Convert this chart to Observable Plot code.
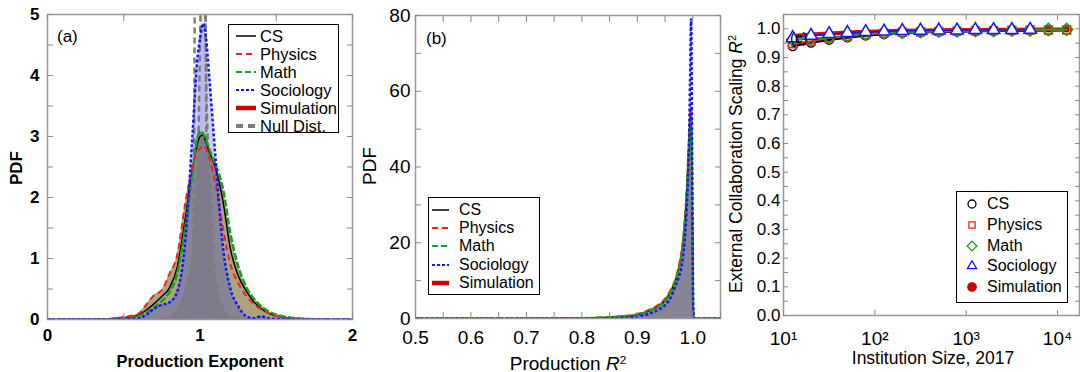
<!DOCTYPE html>
<html><head><meta charset="utf-8">
<script src="https://cdn.jsdelivr.net/npm/d3@7"></script>
<script src="https://cdn.jsdelivr.net/npm/@observablehq/plot@0.6"></script>
<style>
html,body{margin:0;padding:0;background:#fff;}
#fig{position:relative;width:1080px;height:372px;overflow:hidden;font-family:"Liberation Sans",Arial,Helvetica,sans-serif;color:#000;}
.pn{position:absolute;top:0;}
.pn svg{overflow:visible;}
.t{position:absolute;white-space:nowrap;line-height:1;}
.rot{transform:translate(-50%,-50%) rotate(-90deg);}
.ctr{transform:translate(-50%,-50%);}
.leg{position:absolute;border:1px solid #000;background:#fff;box-sizing:border-box;}
.row{position:absolute;left:0;height:18px;display:flex;align-items:center;white-space:nowrap;}
.sup{font-size:0.62em;position:relative;top:-0.55em;}
</style></head>
<body><div id="fig"></div>
<script>
// ---------- Panel (a): PDF of production exponent ----------
const expGrid   = [0,0.2,0.4,0.5,0.55,0.6,0.65,0.7,0.75,0.8,0.85,0.9,0.95,0.98,1.0,1.02,1.04,1.06,1.1,1.15,1.2,1.25,1.3,1.35,1.4,1.45,1.5,1.6,1.7,1.8,2.0];
const csExp     = [0,0,0.01,0.03,0.04,0.08,0.16,0.26,0.38,0.52,0.85,1.6,2.45,2.85,3.0,3.02,2.9,2.75,2.5,1.95,1.15,0.72,0.48,0.3,0.18,0.1,0.06,0.02,0.01,0,0];
const physExp   = [0,0,0.01,0.04,0.06,0.1,0.25,0.4,0.48,0.75,1.05,1.85,2.5,2.75,2.8,2.85,2.8,2.65,2.25,1.5,0.9,0.6,0.4,0.26,0.17,0.1,0.06,0.02,0.01,0,0];
const mathExp   = [0,0,0.005,0.02,0.03,0.06,0.12,0.2,0.3,0.45,0.75,1.45,2.4,2.95,3.08,3.05,2.95,2.8,2.55,2.15,1.4,0.88,0.55,0.35,0.22,0.13,0.08,0.03,0.01,0,0];
const socExp    = [0,0,0,0.005,0.01,0.02,0.08,0.18,0.24,0.28,0.45,1.2,3.0,4.2,4.6,4.85,4.6,4.0,2.7,1.2,0.5,0.22,0.06,0.02,0.05,0.02,0.01,0,0,0,0];
const nullGrid  = [0.75,0.8,0.85,0.88,0.9,0.93,0.95,0.96,0.965,0.97,0.98,0.99,1.0,1.01,1.02,1.03,1.035,1.04,1.05,1.07,1.09,1.12,1.15,1.2,1.3];
const nullExpA  = [0,0,0,0,0.02,0.1,0.5,2,5,9,12,14,14,13,12,9,6,3.5,1.2,0.3,0.1,0.03,0,0,0];
const nullExpB  = [0,0.03,0.15,0.3,0.45,0.75,1.0,1.3,1.45,1.6,2.2,3,4.5,6,7,6,5,4,3,2,1.0,0.4,0.2,0.05,0];

// ---------- Panel (b): PDF of production R^2 ----------
const r2Grid    = [0.5,0.6,0.7,0.8,0.84,0.87,0.9,0.92,0.94,0.95,0.96,0.97,0.975,0.98,0.985,0.99,0.993,0.995,0.997,0.999,1.001,1.003,1.05];
const csR2pdf   = [0,0,0,0.08,0.25,0.5,1.0,1.9,3.4,4.7,7,10.5,13.5,17.5,24,36,46,52,54,29,1,0,0];
const physR2pdf = [0,0,0,0.1,0.3,0.6,1.2,2.2,3.8,5.2,7.5,11,14,18,25,37,47,54,56,30,1,0,0];
const mathR2pdf = [0,0,0,0.08,0.25,0.5,1.0,1.8,3.3,4.6,6.8,10.5,13,17,24,35,45,51,53,28,1,0,0];
const socR2pdf  = [0,0,0,0.02,0.05,0.15,0.6,1.2,2.5,3.5,5.5,9,11,14,20,32,45,62,79,40,2,0,0];

// ---------- Panel (c): external collaboration scaling R^2 vs institution size ----------
const sizeBins  = [12.6,20,31.6,50.1,79.4,126,200,316,501,794,1259,1995,3162,5012,7943,12589];
const csExt     = [0.94,0.952,0.962,0.97,0.977,0.982,0.986,0.988,0.99,0.991,0.992,0.993,0.994,0.995,0.995,0.996];
const physExt   = [0.948,0.957,0.968,0.974,0.98,0.985,0.988,0.99,0.991,0.992,0.993,0.994,0.995,0.996,0.996,0.996];
const mathExt   = [0.962,0.966,0.97,0.976,0.982,0.986,0.988,0.99,0.992,0.993,0.994,0.994,0.996,0.996,0.998,0.998];
const socExt    = [0.968,0.976,0.982,0.986,0.989,0.991,0.993,0.994,0.995,0.995,0.996,0.996,0.996,0.997];
const simExt    = [0.975,0.98,0.984,0.987,0.99,0.992,0.993,0.994,0.995,0.996,0.996,0.997,0.997,0.998,0.998,0.998];

const seriesNames = ["CS","Physics","Math","Sociology","Simulation","Null Dist."];
const expTicks = [0,1,2];
const pdfTicksA = [0,1,2,3,4,5];
const r2Ticks = [0.5,0.6,0.7,0.8,0.9,1.0];
const pdfTicksB = [0,20,40,60,80];
const extTicks = [0,0.1,0.2,0.3,0.4,0.5,0.6,0.7,0.8,0.9,1.0];
const sizeTicks = [10,100,1000,10000];

// colours / styles
const C = {cs:"#000000", phys:"#ff1a1a", math:"#1aa01a", soc:"#1414ff", sim:"#cc0000", nul:"#7c7c7c", khaki:"#aba57f", frame:"#999999"};
const FONT = '"Liberation Sans", Arial, Helvetica, sans-serif';
const pts = (xs, ys) => xs.map((x,i)=>({x, y: ys[i]}));
const BUTT = {strokeLinecap:"butt", strokeLinejoin:"round"};

function tickMarks(xv, yv, len) {
  const o = {tickFormat: () => "", stroke: "#888", strokeWidth: 1, label: null};
  return [
    Plot.axisX(xv, {anchor:"bottom", tickSize:-len, ...o}),
    Plot.axisX(xv, {anchor:"top", tickSize:-len, ...o}),
    Plot.axisY(yv, {anchor:"left", tickSize:-len, ...o}),
    Plot.axisY(yv, {anchor:"right", tickSize:-len, ...o})
  ];
}

const fig = document.getElementById("fig");
function place(el, left){ const d=document.createElement("div"); d.className="pn"; d.style.left=left+"px"; d.appendChild(el); fig.appendChild(d); }
function addHTML(html){ fig.insertAdjacentHTML("beforeend", html); }

// ===== Panel (a)
{
  const cs = pts(expGrid, csExp), ph = pts(expGrid, physExp), ma = pts(expGrid, mathExp), so = pts(expGrid, socExp);
  const nA = pts(nullGrid, nullExpA), nB = pts(nullGrid, nullExpB);
  const cv = "monotone-x";
  const p = Plot.plot({
    width:360, height:372, marginLeft:47, marginRight:8, marginTop:14, marginBottom:53,
    x:{domain:[0,2], label:null}, y:{domain:[0,5], label:null},
    style:{fontFamily:FONT, fontSize:"16px", fontWeight:"bold", background:"transparent", color:"#000"},
    marks:[
      Plot.areaY(cs,{x:"x",y:"y",fill:C.khaki,curve:cv,clip:true}),
      Plot.areaY(ph,{x:"x",y:"y",fill:C.khaki,curve:cv,clip:true}),
      Plot.areaY(ma,{x:"x",y:"y",fill:C.khaki,curve:cv,clip:true}),
      Plot.areaY(so,{x:"x",y:"y",fill:"#0000ff",fillOpacity:0.2,curve:cv,clip:true}),
      Plot.areaY(nB,{x:"x",y:"y",fill:"#303040",fillOpacity:0.1,curve:cv,clip:true}),
      Plot.line(nB,{x:"x",y:"y",stroke:C.nul,strokeWidth:2.5,strokeDasharray:"6,4",curve:cv,clip:true,...BUTT}),
      Plot.line(nA,{x:"x",y:"y",stroke:C.nul,strokeWidth:2.5,strokeDasharray:"6,4",curve:cv,clip:true,...BUTT}),
      Plot.line(cs,{x:"x",y:"y",stroke:C.cs,strokeWidth:1.5,curve:cv,clip:true}),
      Plot.line(ma,{x:"x",y:"y",stroke:C.math,strokeWidth:2.5,strokeDasharray:"7,2",curve:cv,clip:true,...BUTT}),
      Plot.line(ph,{x:"x",y:"y",stroke:C.phys,strokeWidth:2,strokeDasharray:"6,4",curve:cv,clip:true,...BUTT}),
      Plot.line(so,{x:"x",y:"y",stroke:C.soc,strokeWidth:2.5,strokeDasharray:"3,2",curve:cv,clip:true,...BUTT}),
      Plot.frame({stroke:C.frame, strokeWidth:1.5}),
      ...tickMarks(d3.range(0,2.01,0.5), d3.range(0,5.01,0.5), 6),
      Plot.axisX(expTicks,{anchor:"bottom",tickSize:0,tickPadding:9,fontSize:17,fontWeight:"bold",tickFormat:d3.format("d"),label:null}),
      Plot.axisY(pdfTicksA,{anchor:"left",tickSize:0,tickPadding:8,fontSize:17,fontWeight:"bold",tickFormat:d3.format("d"),label:null})
    ]
  });
  place(p, 0);
}

// ===== Panel (b)
{
  const cs = pts(r2Grid, csR2pdf), ph = pts(r2Grid, physR2pdf), ma = pts(r2Grid, mathR2pdf), so = pts(r2Grid, socR2pdf);
  const cv = "monotone-x";
  const p = Plot.plot({
    width:360, height:372, marginLeft:55, marginRight:0, marginTop:15, marginBottom:54,
    x:{domain:[0.5,1.05], label:null}, y:{domain:[0,80], label:null},
    style:{fontFamily:FONT, fontSize:"19px", background:"transparent", color:"#000"},
    marks:[
      Plot.areaY(cs,{x:"x",y:"y",fill:C.khaki,curve:cv,clip:true}),
      Plot.areaY(ph,{x:"x",y:"y",fill:C.khaki,curve:cv,clip:true}),
      Plot.areaY(ma,{x:"x",y:"y",fill:C.khaki,curve:cv,clip:true}),
      Plot.areaY(so,{x:"x",y:"y",fill:"#0000ff",fillOpacity:0.2,curve:cv,clip:true}),
      Plot.line(cs,{x:"x",y:"y",stroke:C.cs,strokeWidth:1.5,curve:cv,clip:true}),
      Plot.line(ph,{x:"x",y:"y",stroke:C.phys,strokeWidth:2,strokeDasharray:"6,4",curve:cv,clip:true,...BUTT}),
      Plot.line(ma,{x:"x",y:"y",stroke:C.math,strokeWidth:2.5,strokeDasharray:"7,2",curve:cv,clip:true,...BUTT}),
      Plot.line(so,{x:"x",y:"y",stroke:C.soc,strokeWidth:2.5,strokeDasharray:"3,2",curve:cv,clip:true,...BUTT}),
      Plot.frame({stroke:C.frame, strokeWidth:1.5}),
      ...tickMarks(d3.range(0.5,1.051,0.05), d3.range(0,80.1,10), 6),
      Plot.axisX(r2Ticks,{anchor:"bottom",tickSize:0,tickPadding:12,fontSize:19,tickFormat:d3.format(".1f"),label:null}),
      Plot.axisY(pdfTicksB,{anchor:"left",tickSize:0,tickPadding:5,fontSize:19,tickFormat:d3.format("d"),label:null})
    ]
  });
  place(p, 360);
}

// ===== Panel (c)
{
  const sup = {"0":"⁰","1":"¹","2":"²","3":"³","4":"⁴","5":"⁵"};
  const powFmt = v => "10" + String(Math.round(Math.log10(v))).split("").map(c=>sup[c]).join("");
  const cs = pts(sizeBins, csExt), ph = pts(sizeBins, physExt), ma = pts(sizeBins, mathExt);
  const so = pts(sizeBins.slice(0, socExt.length), socExt), si = pts(sizeBins, simExt);
  const p = Plot.plot({
    width:360, height:372, marginLeft:63, marginRight:1, marginTop:14, marginBottom:57,
    x:{type:"log", domain:[10,17400], label:null}, y:{domain:[0,1.05], label:null},
    style:{fontFamily:FONT, fontSize:"17px", background:"transparent", color:"#000"},
    marks:[
      Plot.line(si,{x:"x",y:"y",stroke:"#e60000",strokeWidth:4}),
      Plot.dot(si,{x:"x",y:"y",fill:C.sim,r:3}),
      Plot.line(cs,{x:"x",y:"y",stroke:C.cs,strokeWidth:2.5}),
      Plot.dot(cs,{x:"x",y:"y",symbol:"circle",stroke:C.cs,fill:"none",r:4.5,strokeWidth:1.3}),
      Plot.line(ph,{x:"x",y:"y",stroke:C.phys,strokeWidth:2}),
      Plot.dot(ph,{x:"x",y:"y",symbol:"square2",stroke:C.phys,fill:"none",r:5,strokeWidth:1.5}),
      Plot.line(ma,{x:"x",y:"y",stroke:C.math,strokeWidth:2}),
      Plot.dot(ma,{x:"x",y:"y",symbol:"diamond2",stroke:C.math,fill:"none",r:5.5,strokeWidth:1.5}),
      Plot.line(so,{x:"x",y:"y",stroke:C.soc,strokeWidth:1.5}),
      Plot.dot(so,{x:"x",y:"y",symbol:"triangle2",stroke:C.soc,fill:"white",r:6,strokeWidth:1.5}),
      Plot.frame({stroke:C.frame, strokeWidth:1.5}),
      ...tickMarks(sizeTicks, d3.range(0,1.051,0.05), 5),
      Plot.axisX(sizeTicks,{anchor:"bottom",tickSize:0,tickPadding:16,fontSize:19,tickFormat:powFmt,label:null}),
      Plot.axisY(extTicks,{anchor:"left",tickSize:0,tickPadding:3,fontSize:17,tickFormat:d3.format(".1f"),label:null})
    ]
  });
  place(p, 720);
}

// ===== Titles & panel letters
addHTML(`<div class="t ctr" style="left:200px;top:361px;font-size:16.5px;font-weight:bold">Production Exponent</div>`);
addHTML(`<div class="t rot" style="left:16px;top:168px;font-size:17px;font-weight:bold">PDF</div>`);
addHTML(`<div class="t" style="left:57px;top:28px;font-size:17px">(a)</div>`);
addHTML(`<div class="t ctr" style="left:568px;top:363px;font-size:19px">Production <i>R</i><span class="sup">2</span></div>`);
addHTML(`<div class="t rot" style="left:369px;top:166px;font-size:19px">PDF</div>`);
addHTML(`<div class="t" style="left:426px;top:30px;font-size:17px">(b)</div>`);
addHTML(`<div class="t ctr" style="left:933px;top:359px;font-size:17.5px">Institution Size, 2017</div>`);
addHTML(`<div class="t rot" style="left:737px;top:164px;font-size:17.5px">External Collaboration Scaling <i>R</i><span class="sup">2</span></div>`);
addHTML(`<div class="t" style="left:790px;top:30px;font-size:15px">(c)</div>`);

// ===== Legends
const lineSw = (w, stroke, sw, dash) => `<svg width="${w}" height="10" style="display:block"><line x1="0" x2="${w}" y1="5" y2="5" stroke="${stroke}" stroke-width="${sw}" ${dash?`stroke-dasharray="${dash}"`:""}/></svg>`;
const lineStyles = [
  [C.cs,1.5,null],[C.phys,2,"6,4"],[C.math,2,"6,3"],[C.soc,2,"3,2"],[C.sim,4.5,null],[C.nul,4,"7,5"]
];
function legendLines(left, top, w, h, n, y0, dy, swX, swW, txtX, fs) {
  let html = `<div class="leg" style="left:${left}px;top:${top}px;width:${w}px;height:${h}px">`;
  for (let i=0;i<n;i++){
    const [s,sw,da]=lineStyles[i];
    html += `<div class="row" style="top:${y0+i*dy-9}px;left:${swX}px">${lineSw(swW,s,sw,da)}</div>`;
    html += `<div class="row" style="top:${y0+i*dy-9}px;left:${txtX}px;font-size:${fs}px">${seriesNames[i]}</div>`;
  }
  return html + `</div>`;
}
addHTML(legendLines(228,24,111,109,6,11,18,7,20,31,16.5));
addHTML(legendLines(428,197,112,98,5,12,18.2,3,17,30,16));

const symSw = (type, stroke, fill, size) => {
  const path = d3.symbol(type, size)();
  return `<svg width="14" height="14" style="display:block"><path transform="translate(7,7)" d="${path}" stroke="${stroke}" fill="${fill}" stroke-width="1.3"/></svg>`;
};
const symRows = [
  symSw(d3.symbolCircle, C.cs, "none", 50),
  symSw(d3.symbolSquare2, C.phys, "none", 50),
  symSw(d3.symbolDiamond2, C.math, "none", 60),
  symSw(d3.symbolTriangle2, C.soc, "none", 60),
  symSw(d3.symbolCircle, C.sim, C.sim, 55)
];
{
  let html = `<div class="leg" style="left:956px;top:191px;width:112px;height:112px">`;
  symRows.forEach((s,i)=>{
    const y = 12 + i*20.8 - 9;
    html += `<div class="row" style="top:${y}px;left:8px">${s}</div>`;
    html += `<div class="row" style="top:${y}px;left:30px;font-size:16px">${seriesNames[i]}</div>`;
  });
  addHTML(html + `</div>`);
}
</script></body></html>
